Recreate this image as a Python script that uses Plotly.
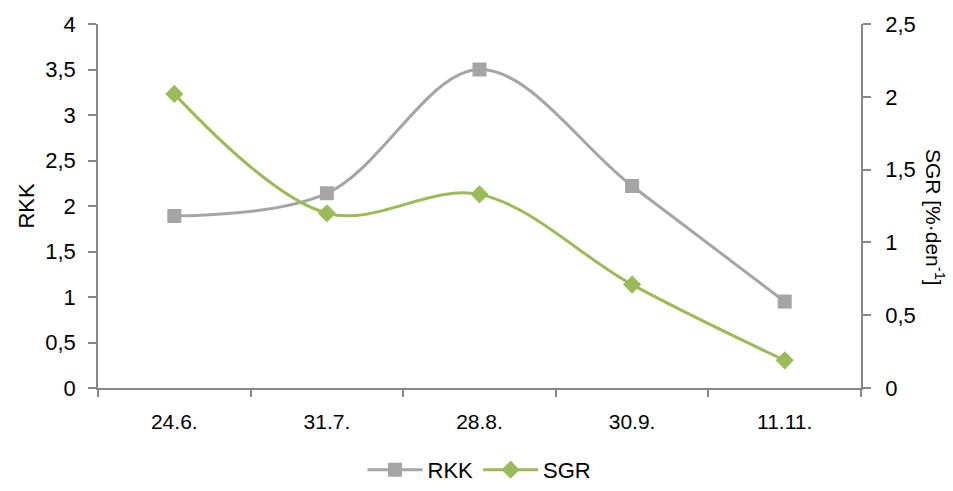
import plotly.graph_objects as go

# Sampling dates and measured values
dates = ["24.6.", "31.7.", "28.8.", "30.9.", "11.11."]
rkk = [1.89, 2.14, 3.5, 2.22, 0.95]
sgr = [2.02, 1.2, 1.33, 0.71, 0.19]

left_ticks = [0, 0.5, 1, 1.5, 2, 2.5, 3, 3.5, 4]
left_labels = ["0", "0,5", "1", "1,5", "2", "2,5", "3", "3,5", "4"]
right_ticks = [0, 0.5, 1, 1.5, 2, 2.5]
right_labels = ["0", "0,5", "1", "1,5", "2", "2,5"]

GRAY = "#A5A5A5"
GREEN = "#9BBB59"
AXIS = "#878787"
FONT = "Liberation Sans, Arial, sans-serif"

fig = go.Figure()
fig.add_trace(go.Scatter(
    x=dates, y=rkk, name="RKK", mode="lines+markers",
    line=dict(color=GRAY, width=3, shape="spline", smoothing=1),
    marker=dict(symbol="square", size=14, color=GRAY),
    yaxis="y",
))
fig.add_trace(go.Scatter(
    x=dates, y=sgr, name="SGR", mode="lines+markers",
    line=dict(color=GREEN, width=3, shape="spline", smoothing=1),
    marker=dict(symbol="diamond", size=14, color=GREEN),
    yaxis="y2",
))

fig.update_layout(
    width=953, height=491,
    margin=dict(l=98, r=92, t=24, b=103, autoexpand=False),
    paper_bgcolor="white", plot_bgcolor="white",
    font=dict(family=FONT, size=20, color="#000000"),
    showlegend=True,
    legend=dict(orientation="h", x=0.5, xanchor="center", y=-0.225, yanchor="middle",
                font=dict(size=22), itemwidth=55, traceorder="normal"),
    xaxis=dict(
        type="category", tickson="boundaries", ticks="outside", ticklen=7,
        tickcolor=AXIS, tickwidth=1.5, showline=True, linecolor=AXIS, linewidth=1.5,
        showgrid=False, zeroline=False, tickfont=dict(size=21),
        ticklabelstandoff=14, range=[-0.5, 4.5],
    ),
    yaxis=dict(
        range=[0, 4], tickvals=left_ticks, ticktext=left_labels,
        ticks="outside", ticklen=8, tickcolor=AXIS, tickwidth=1.5,
        showline=True, linecolor=AXIS, linewidth=1.5, showgrid=False,
        zeroline=False, tickfont=dict(size=22), ticklabelstandoff=8,
    ),
    yaxis2=dict(
        range=[0, 2.5], tickvals=right_ticks, ticktext=right_labels,
        overlaying="y", side="right", anchor="x",
        ticks="outside", ticklen=8, tickcolor=AXIS, tickwidth=1.5,
        showline=True, linecolor=AXIS, linewidth=1.5, showgrid=False,
        zeroline=False, tickfont=dict(size=22), ticklabelstandoff=10,
    ),
    annotations=[
        dict(text="RKK", xref="paper", yref="paper", x=-0.095, y=0.5,
             xanchor="center", yanchor="middle", textangle=-90, showarrow=False,
             font=dict(size=22)),
        dict(text="SGR [%·den<sup>-1</sup>]", xref="paper", yref="paper", x=1.097,
             y=0.47, xanchor="center", yanchor="middle", textangle=90,
             showarrow=False, font=dict(size=21)),
    ],
)

fig.write_html("out.html")
